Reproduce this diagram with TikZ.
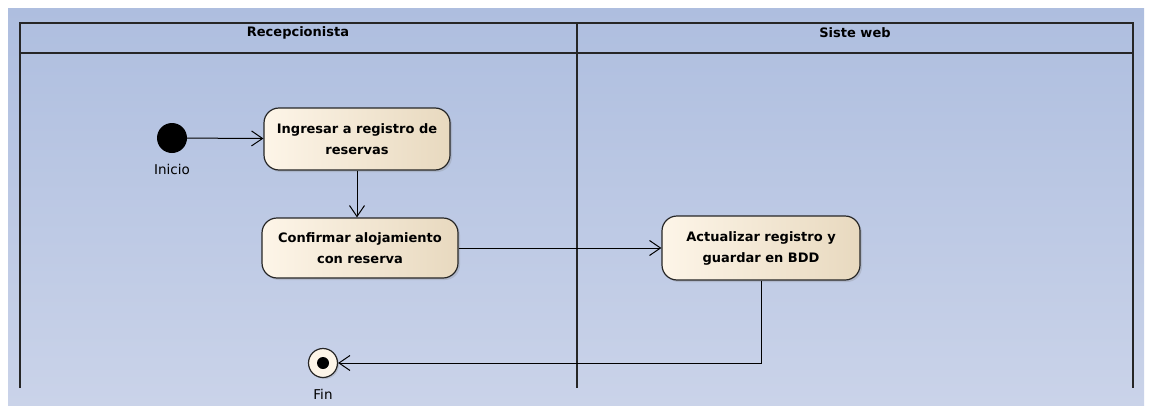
\documentclass[tikz,border=0pt]{standalone}
\usepackage{fontspec}
\setmainfont{DejaVu Sans}
\usetikzlibrary{arrows.meta,positioning,shadows}

\definecolor{bgtop}{HTML}{AEBEDF}
\definecolor{bgbot}{HTML}{CAD3E9}
\definecolor{actlight}{HTML}{FDF5E8}
\definecolor{actdark}{HTML}{E8D9BF}

\begin{document}
\begin{tikzpicture}[
      x=1pt,y=-1pt,
      every node/.style={font=\fontsize{13.5}{16}\selectfont},
      act/.style={rectangle,draw=black!85,line width=1.2pt,rounded corners=15pt,
                  left color=actlight,right color=actdark,
                  minimum width=186pt,minimum height=62pt,align=center,inner sep=2pt,
                  font=\fontsize{13}{21}\selectfont\bfseries,
                  drop shadow={shadow xshift=2pt,shadow yshift=-2pt,opacity=0.25}},
      start/.style={circle,fill=black,minimum size=30pt,inner sep=0pt},
      stop/.style={circle,draw=black!85,line width=1.2pt,fill=actlight,minimum size=29pt,inner sep=0pt,
                   drop shadow={shadow xshift=1.5pt,shadow yshift=-1.5pt,opacity=0.25}},
      lane/.style={draw=black!85,line width=1.3pt},
      flow/.style={draw=black,line width=1pt,-{Straight Barb[length=11pt,width=15pt,line width=1pt]}}
  ]
  \useasboundingbox (0,0) rectangle (1149,407);

  % ===================== fondo =====================
  \shade[top color=bgtop,bottom color=bgbot] (8,8) rectangle (1144,405);

  % ===================== calles =====================
  \draw[lane] (20,388) -- (20,23) -- (1133,23) -- (1133,388);
  \draw[lane] (20,53) -- (1133,53);
  \draw[lane] (577,23) -- (577,388);
  \node[font=\fontsize{13}{15}\selectfont\bfseries] (recep) at (298,33) {Recepcionista};
  \node[font=\fontsize{13}{15}\selectfont\bfseries] (web) at (855,33) {Siste web};

  % ===================== actividades =====================
  \node[start] (ini) at (172,138) {};
  \node[below=8pt of ini] (iniLbl) {Inicio};

  \node[act,minimum width=186pt] (ingresar) at (357,139) {Ingresar a registro de\\reservas};
  \node[act,minimum width=196pt,minimum height=60pt] (confirmar) at (360,248) {Confirmar alojamiento\\con reserva};
  \node[act,minimum width=198pt,minimum height=64pt] (actualizar) at (761,248) {Actualizar registro y\\guardar en BDD};

  \node[stop] (fin) at (323,363) {};
  \fill (fin) circle (6pt);
  \node[below=8pt of fin] (finLbl) {Fin};

  % ===================== flujo =====================
  \draw[flow] (ini) -- (ingresar);
  \draw[flow] (ingresar.south) -- (ingresar.south |- confirmar.north);
  \draw[flow] (confirmar) -- (actualizar);
  \draw[flow] (actualizar.south) |- (fin);

\end{tikzpicture}
\end{document}
